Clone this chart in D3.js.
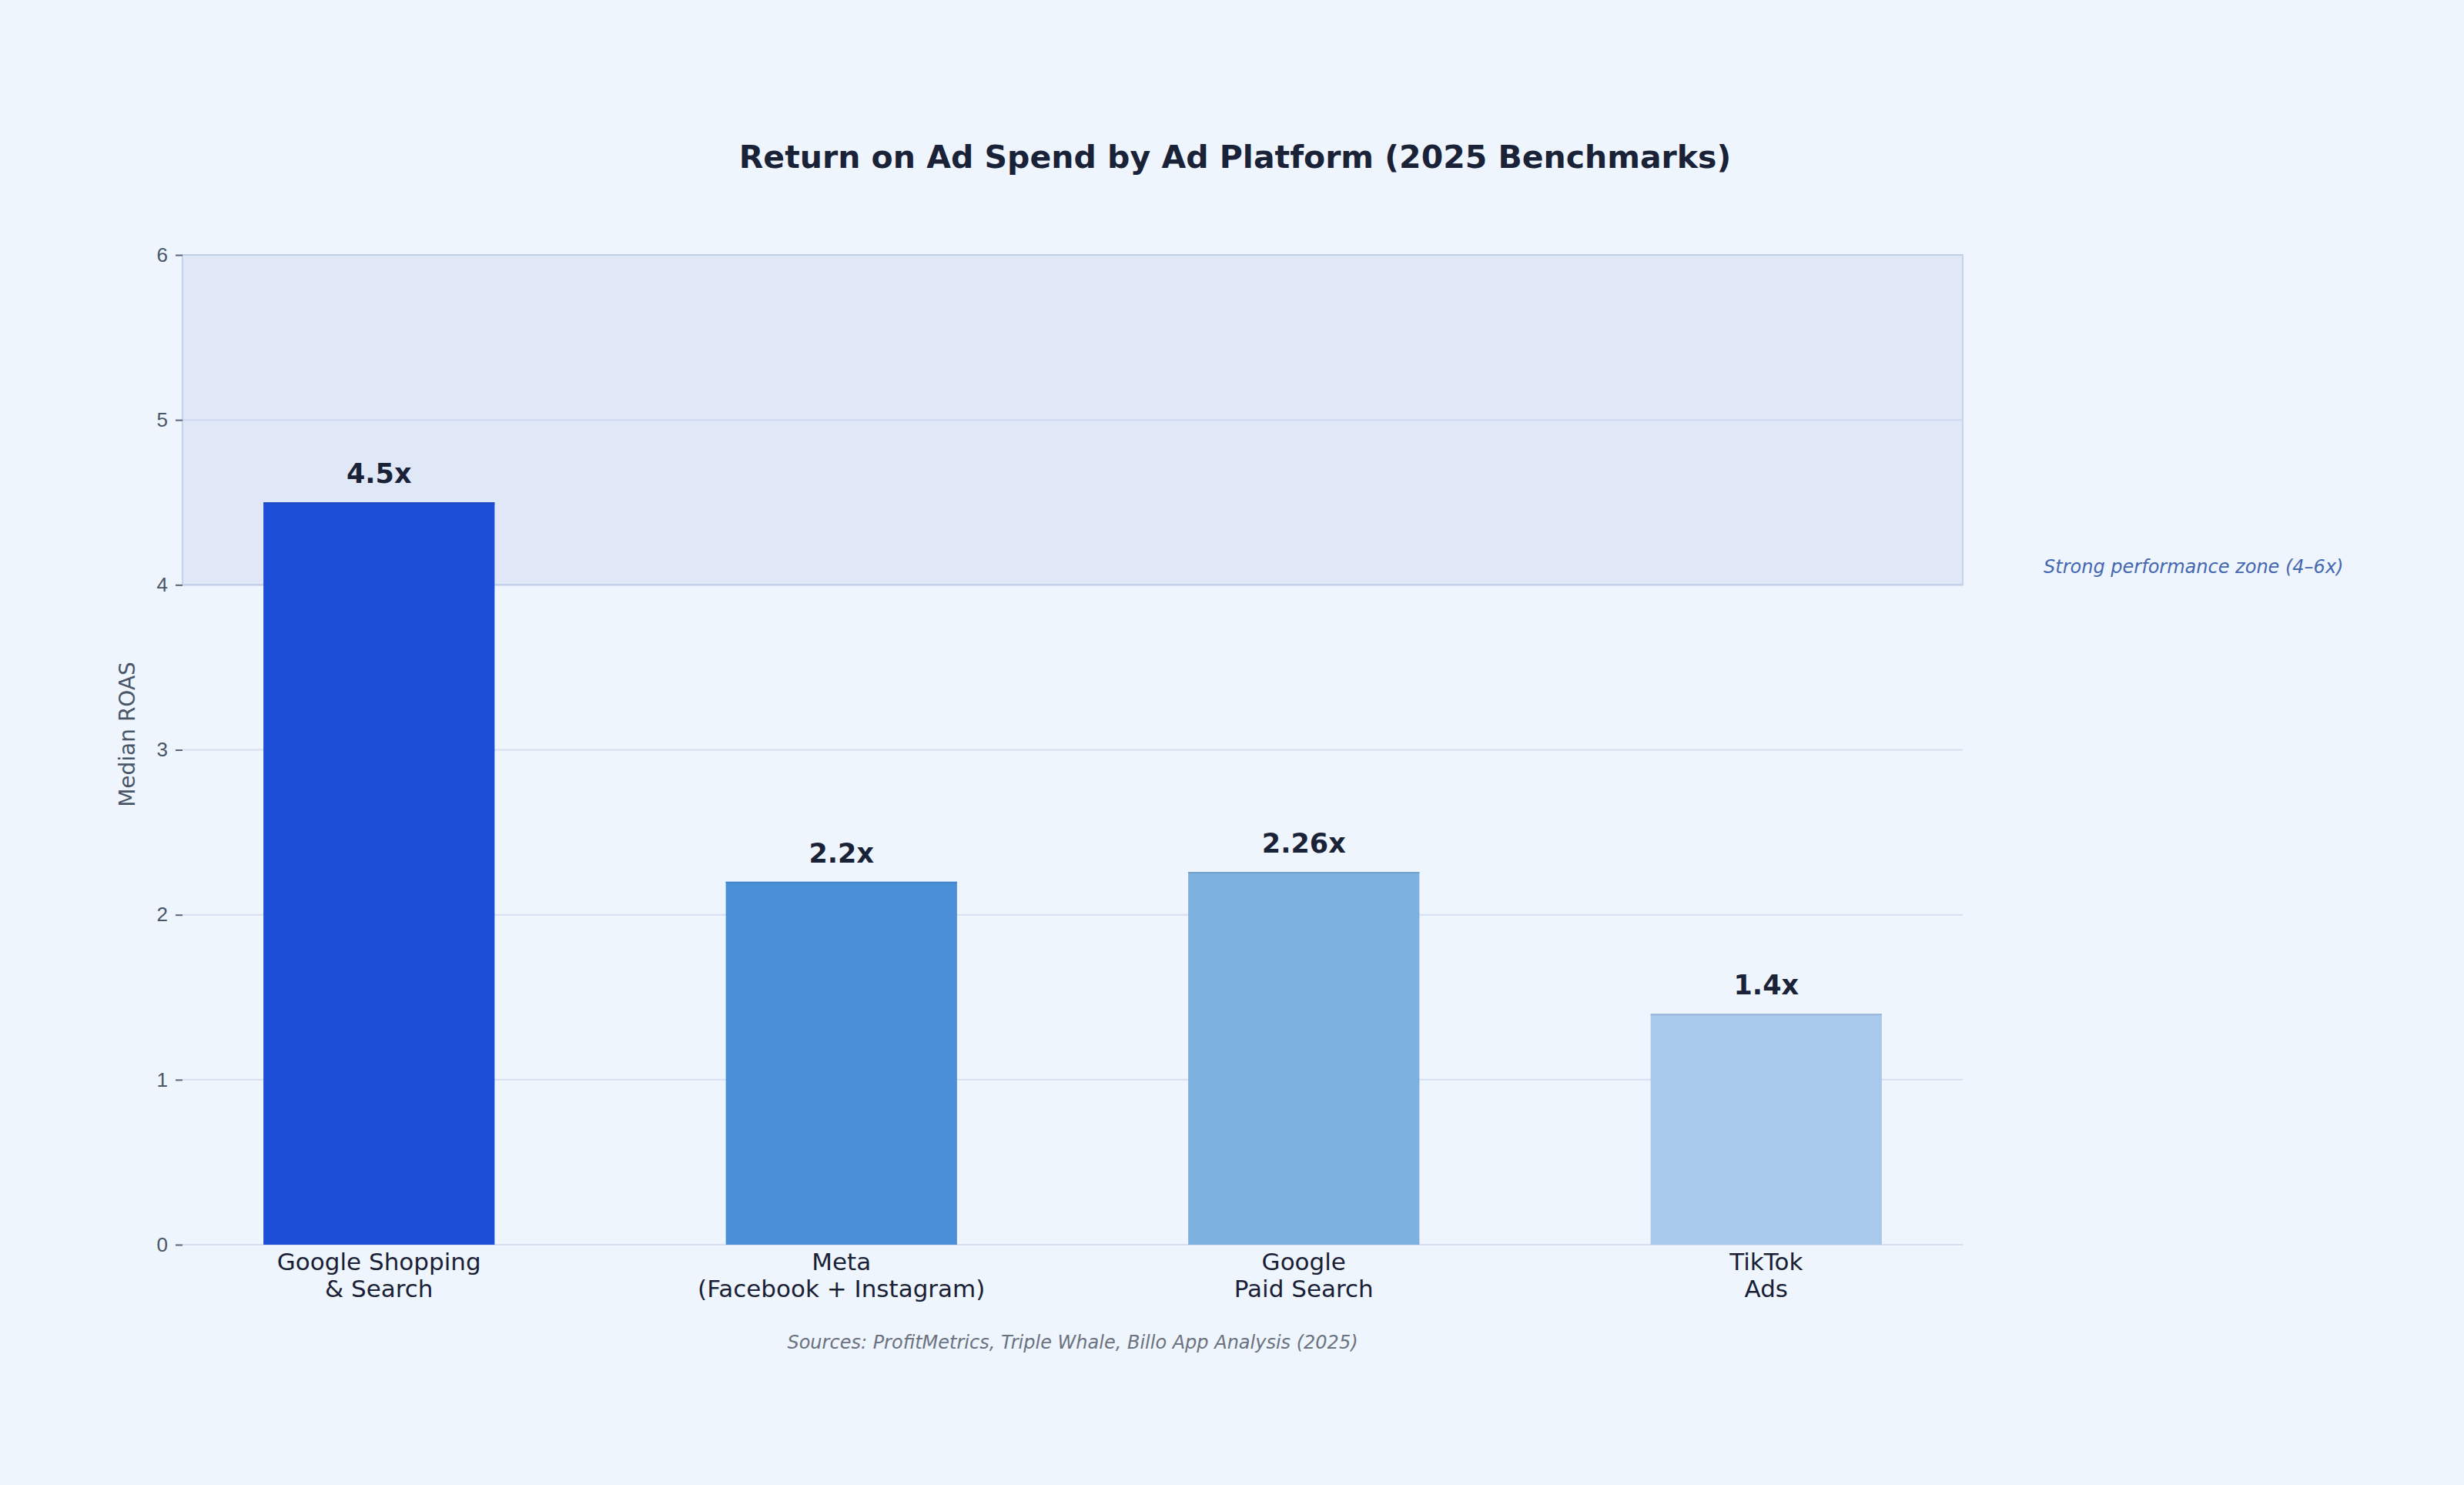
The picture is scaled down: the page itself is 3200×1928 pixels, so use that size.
<!DOCTYPE html>
<html lang="en">
<head>
<meta charset="utf-8">
<title>Return on Ad Spend by Ad Platform</title>
<script src="https://cdn.jsdelivr.net/npm/d3@7"></script>
<style>
    html, body { margin: 0; padding: 0; background: #eef5fd; }
    svg { display: block; font-family: "DejaVu Sans", sans-serif; }
    .y.axis .domain { display: none; }
    .y.axis line { stroke: #5a6476; }
    .y.axis text { fill: #4a5568; font-size: 26px; }
    .grid line { stroke: #b9c6e2; stroke-opacity: 0.45; stroke-width: 2px; }
</style>
</head>
<body>
<script>
// data
const platforms = [
    ["Google Shopping", "& Search"],
    ["Meta", "(Facebook + Instagram)"],
    ["Google", "Paid Search"],
    ["TikTok", "Ads"]
];
const roas = [4.5, 2.2, 2.26, 1.4];
const valueLabels = ["4.5x", "2.2x", "2.26x", "1.4x"];
const barColors = ["#1d4ed8", "#4a90d9", "#7db2e0", "#a8c8ec"];
const yTicks = [0, 1, 2, 3, 4, 5, 6];
const zone = [4, 6];

const W = 3200, H = 1928;
const m = { left: 237, right: 651, top: 331, bottom: 312 };
const innerW = W - m.left - m.right,
    innerH = H - m.top - m.bottom;

const svg = d3.select("body").append("svg")
    .attr("width", W)
    .attr("height", H);

svg.append("rect").attr("width", W).attr("height", H).attr("fill", "#eef5fd");

const chart = svg.append("g")
    .attr("transform", `translate(${m.left}, ${m.top})`);

// scales
const x = d3.scaleBand()
    .domain(d3.range(platforms.length))
    .range([0, innerW])
    .paddingInner(0.5)
    .paddingOuter(0.175);
const y = d3.scaleLinear()
    .domain([0, 6])
    .range([innerH, 0]);

// strong zone
chart.append("rect")
    .attr("x", 0)
    .attr("y", y(zone[1]))
    .attr("width", innerW)
    .attr("height", y(zone[0]) - y(zone[1]))
    .attr("fill", "#e0e7f7")
    .attr("stroke", "#c6d3ec")
    .attr("stroke-width", 2);

// gridlines
chart.append("g")
    .attr("class", "grid")
    .selectAll("line")
    .data(yTicks)
    .join("line")
        .attr("x1", 0)
        .attr("x2", innerW)
        .attr("y1", d => y(d))
        .attr("y2", d => y(d));

// y axis
chart.append("g")
    .attr("class", "y axis")
    .call(d3.axisLeft(y).tickValues(yTicks).tickFormat(d3.format("d")).tickSize(9).tickPadding(10))
    .call(g => g.selectAll("line").attr("stroke-width", 2));

// bars
chart.selectAll("rect.bar")
    .data(roas)
    .join("rect")
        .attr("class", "bar")
        .attr("x", (d, i) => x(i))
        .attr("y", d => y(d))
        .attr("width", x.bandwidth())
        .attr("height", d => innerH - y(d))
        .attr("fill", (d, i) => barColors[i]);
// thin darker top edge
chart.selectAll("line.bar-edge")
    .data(roas)
    .join("line")
        .attr("class", "bar-edge")
        .attr("x1", (d, i) => x(i))
        .attr("x2", (d, i) => x(i) + x.bandwidth())
        .attr("y1", d => y(d) + 1)
        .attr("y2", d => y(d) + 1)
        .attr("stroke", (d, i) => d3.color(barColors[i]).darker(0.25))
        .attr("stroke-width", 2);

// value labels
chart.selectAll("text.value")
    .data(roas)
    .join("text")
        .attr("class", "value")
        .attr("x", (d, i) => x(i) + x.bandwidth() / 2)
        .attr("y", d => y(d) - 25)
        .attr("text-anchor", "middle")
        .attr("fill", "#1a2238")
        .attr("font-size", 35)
        .attr("font-weight", "bold")
        .text((d, i) => valueLabels[i]);

// category labels
const cats = chart.selectAll("text.cat")
    .data(platforms)
    .join("text")
        .attr("class", "cat")
        .attr("text-anchor", "middle")
        .attr("fill", "#1a1f36")
        .attr("font-size", 31)
        .attr("transform", (d, i) => `translate(${x(i) + x.bandwidth() / 2}, ${innerH + 33})`);
cats.selectAll("tspan")
    .data(d => d)
    .join("tspan")
        .attr("x", 0)
        .attr("dy", (d, i) => i === 0 ? 0 : 35)
        .text(d => d);

// y label
chart.append("text")
    .attr("transform", `translate(${-62}, ${innerH / 2 - 20}) rotate(-90)`)
    .attr("text-anchor", "middle")
    .attr("fill", "#4a5568")
    .attr("font-size", 28)
    .text("Median ROAS");

// zone annotation
chart.append("text")
    .attr("x", x(platforms.length - 1) + x.bandwidth() / 2 + x.step() * 0.6)
    .attr("y", y(4.11))
    .attr("dominant-baseline", "central")
    .attr("fill", "#4567b0")
    .attr("font-size", 24)
    .attr("font-style", "italic")
    .text("Strong performance zone (4–6x)");

// title
svg.append("text")
    .attr("x", W / 2 + 4)
    .attr("y", 218)
    .attr("text-anchor", "middle")
    .attr("fill", "#1a2238")
    .attr("font-size", 41)
    .attr("font-weight", "bold")
    .text("Return on Ad Spend by Ad Platform (2025 Benchmarks)");

// sources
chart.append("text")
    .attr("x", innerW / 2)
    .attr("y", innerH + 135)
    .attr("text-anchor", "middle")
    .attr("fill", "#6b7280")
    .attr("font-size", 24)
    .attr("font-style", "italic")
    .text("Sources: ProfitMetrics, Triple Whale, Billo App Analysis (2025)");
</script>
</body>
</html>
